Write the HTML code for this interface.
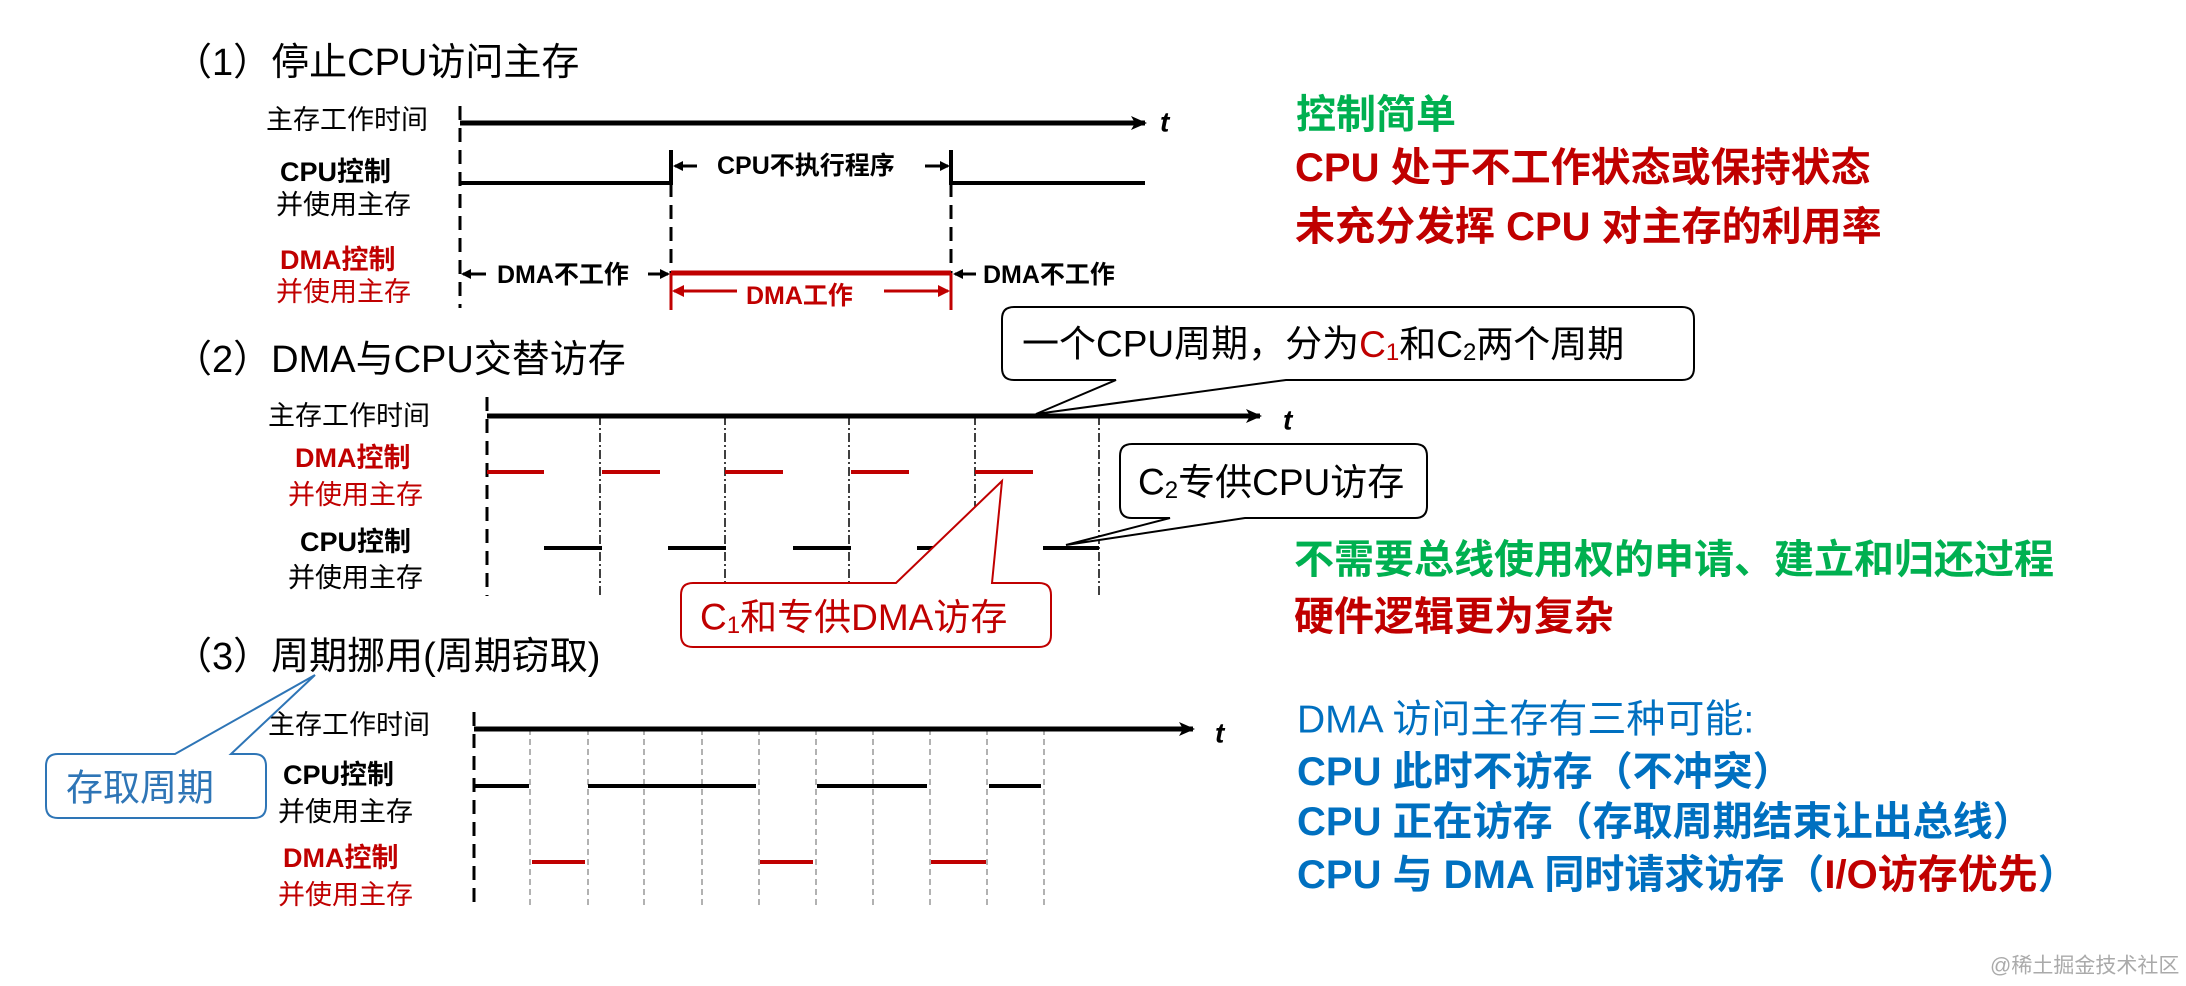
<!DOCTYPE html>
<html><head><meta charset="utf-8"><style>
html,body{margin:0;padding:0;background:#fff;}
svg{display:block;}
text{font-family:"Liberation Sans","Noto Sans CJK SC",sans-serif;dominant-baseline:central;}
.lb{font-size:27px;fill:#000;}
.b{font-weight:bold;}
.r{fill:#c00000;}
.tt{font-size:38px;fill:#000;}
.big{font-size:40px;font-weight:bold;}
</style></head><body>
<svg width="2186" height="986" viewBox="0 0 2186 986" xmlns="http://www.w3.org/2000/svg">
<defs>
<marker id="ak" markerWidth="10" markerHeight="10" refX="8" refY="5" orient="auto" markerUnits="userSpaceOnUse"><path d="M0,0 L10,5 L0,10 Z" fill="#000"/></marker>
<marker id="ar" markerWidth="12" markerHeight="12" refX="10" refY="6" orient="auto" markerUnits="userSpaceOnUse"><path d="M0,0 L12,6 L0,12 Z" fill="#c00000"/></marker>
<marker id="ab" markerWidth="16" markerHeight="14" refX="14" refY="7" orient="auto" markerUnits="userSpaceOnUse"><path d="M0,0 L16,7 L0,14 L4,7 Z" fill="#000"/></marker>
</defs>

<!-- Section 1 -->
<text x="174" y="63" class="tt">（1）停止CPU访问主存</text>
<text x="266" y="120" class="lb">主存工作时间</text>
<text x="280" y="172" class="lb b">CPU控制</text>
<text x="276" y="205" class="lb">并使用主存</text>
<text x="280" y="260" class="lb b r">DMA控制</text>
<text x="276" y="292" class="lb r">并使用主存</text>
<line x1="460" y1="123" x2="1145" y2="123" stroke="#000" stroke-width="5" marker-end="url(#ab)"/>
<text x="1160" y="122" font-size="28" font-weight="bold" font-style="italic">t</text>
<line x1="460" y1="106" x2="460" y2="308" stroke="#000" stroke-width="3" stroke-dasharray="14,8"/>
<polyline points="460,183 671,183 671,150" fill="none" stroke="#000" stroke-width="4"/>
<polyline points="951,150 951,183 1145,183" fill="none" stroke="#000" stroke-width="4"/>
<line x1="671" y1="183" x2="671" y2="273" stroke="#000" stroke-width="3" stroke-dasharray="14,8"/>
<line x1="951" y1="183" x2="951" y2="273" stroke="#000" stroke-width="3" stroke-dasharray="14,8"/>
<text x="717" y="166" font-size="25" class="b">CPU不执行程序</text>
<line x1="697" y1="166" x2="675" y2="166" stroke="#000" stroke-width="3" marker-end="url(#ak)"/>
<line x1="925" y1="166" x2="948" y2="166" stroke="#000" stroke-width="3" marker-end="url(#ak)"/>
<line x1="671" y1="273" x2="951" y2="273" stroke="#c00000" stroke-width="5"/>
<line x1="671" y1="273" x2="671" y2="310" stroke="#c00000" stroke-width="3"/>
<line x1="951" y1="273" x2="951" y2="310" stroke="#c00000" stroke-width="3"/>
<text x="497" y="275" font-size="25" class="b">DMA不工作</text>
<line x1="486" y1="274" x2="463" y2="274" stroke="#000" stroke-width="3" marker-end="url(#ak)"/>
<line x1="648" y1="274" x2="668" y2="274" stroke="#000" stroke-width="3" marker-end="url(#ak)"/>
<text x="983" y="275" font-size="25" class="b">DMA不工作</text>
<line x1="976" y1="274" x2="955" y2="274" stroke="#000" stroke-width="3" marker-end="url(#ak)"/>
<text x="746" y="296" font-size="25" class="b r">DMA工作</text>
<line x1="737" y1="291" x2="674" y2="291" stroke="#c00000" stroke-width="3" marker-end="url(#ar)"/>
<line x1="884" y1="291" x2="948" y2="291" stroke="#c00000" stroke-width="3" marker-end="url(#ar)"/>

<text x="1296" y="115" font-size="40" font-weight="bold" fill="#00b050">控制简单</text>
<text x="1295" y="168" class="big r">CPU 处于不工作状态或保持状态</text>
<text x="1295" y="227" class="big r">未充分发挥 CPU 对主存的利用率</text>

<!-- Section 2 -->
<text x="174" y="360" class="tt">（2）DMA与CPU交替访存</text>
<text x="268" y="416" class="lb">主存工作时间</text>
<text x="295" y="458" class="lb b r">DMA控制</text>
<text x="288" y="495" class="lb r">并使用主存</text>
<text x="300" y="542" class="lb b">CPU控制</text>
<text x="288" y="578" class="lb">并使用主存</text>
<line x1="487" y1="397" x2="487" y2="596" stroke="#000" stroke-width="3" stroke-dasharray="14,8"/>
<g stroke="#000" stroke-width="1.5" stroke-dasharray="9,3,2,3">
<line x1="600" y1="416" x2="600" y2="595"/><line x1="725" y1="416" x2="725" y2="595"/>
<line x1="849" y1="416" x2="849" y2="595"/><line x1="975" y1="416" x2="975" y2="595"/>
<line x1="1099" y1="416" x2="1099" y2="595"/>
</g>
<line x1="487" y1="416" x2="1260" y2="416" stroke="#000" stroke-width="5" marker-end="url(#ab)"/>
<text x="1283" y="420" font-size="28" font-weight="bold" font-style="italic">t</text>
<g stroke="#c00000" stroke-width="4">
<line x1="487" y1="472" x2="544" y2="472"/><line x1="602" y1="472" x2="660" y2="472"/>
<line x1="725" y1="472" x2="783" y2="472"/><line x1="851" y1="472" x2="909" y2="472"/>
<line x1="975" y1="472" x2="1033" y2="472"/>
</g>
<g stroke="#000" stroke-width="4">
<line x1="544" y1="548" x2="602" y2="548"/><line x1="668" y1="548" x2="726" y2="548"/>
<line x1="793" y1="548" x2="851" y2="548"/><line x1="917" y1="548" x2="975" y2="548"/>
<line x1="1043" y1="548" x2="1099" y2="548"/>
</g>
<path d="M1014,307 H1682 Q1694,307 1694,319 V368 Q1694,380 1682,380 H1286 L1036,414 L1116,380 H1014 Q1002,380 1002,368 V319 Q1002,307 1014,307 Z" fill="#fff" stroke="#000" stroke-width="2"/>
<text x="1022" y="344" font-size="37">一个CPU周期，分为<tspan fill="#c00000">C<tspan font-size="24" dy="8">1</tspan></tspan><tspan dy="-8">和C</tspan><tspan font-size="24" dy="8">2</tspan><tspan dy="-8">两个周期</tspan></text>
<path d="M1132,444 H1415 Q1427,444 1427,456 V506 Q1427,518 1415,518 H1245 L1066,545 L1170,518 H1132 Q1120,518 1120,506 V456 Q1120,444 1132,444 Z" fill="#fff" stroke="#000" stroke-width="2"/>
<text x="1138" y="482" font-size="37">C<tspan font-size="24" dy="8">2</tspan><tspan dy="-8">专供CPU访存</tspan></text>
<path d="M693,583 H896 L1002,481 L992,583 H1039 Q1051,583 1051,595 V635 Q1051,647 1039,647 H693 Q681,647 681,635 V595 Q681,583 693,583 Z" fill="#fff" stroke="#c00000" stroke-width="2"/>
<text x="700" y="617" font-size="37" fill="#c00000">C<tspan font-size="24" dy="8">1</tspan><tspan dy="-8">和专供DMA访存</tspan></text>

<text x="1294" y="560" font-size="40" font-weight="bold" fill="#00b050">不需要总线使用权的申请、建立和归还过程</text>
<text x="1294" y="617" class="big r">硬件逻辑更为复杂</text>

<!-- Section 3 -->
<text x="174" y="657" class="tt">（3）周期挪用(周期窃取)</text>
<text x="268" y="725" class="lb">主存工作时间</text>
<text x="283" y="775" class="lb b">CPU控制</text>
<text x="278" y="812" class="lb">并使用主存</text>
<text x="283" y="858" class="lb b r">DMA控制</text>
<text x="278" y="895" class="lb r">并使用主存</text>
<line x1="474" y1="712" x2="474" y2="907" stroke="#000" stroke-width="3" stroke-dasharray="14,8"/>
<g stroke="#888" stroke-width="1.3" stroke-dasharray="6,4">
<line x1="530" y1="729" x2="530" y2="907"/><line x1="588" y1="729" x2="588" y2="907"/>
<line x1="644" y1="729" x2="644" y2="907"/><line x1="702" y1="729" x2="702" y2="907"/>
<line x1="759" y1="729" x2="759" y2="907"/><line x1="816" y1="729" x2="816" y2="907"/>
<line x1="873" y1="729" x2="873" y2="907"/><line x1="930" y1="729" x2="930" y2="907"/>
<line x1="987" y1="729" x2="987" y2="907"/><line x1="1044" y1="729" x2="1044" y2="907"/>
</g>
<line x1="474" y1="729" x2="1193" y2="729" stroke="#000" stroke-width="5" marker-end="url(#ab)"/>
<text x="1215" y="733" font-size="28" font-weight="bold" font-style="italic">t</text>
<g stroke="#000" stroke-width="4">
<line x1="474" y1="786" x2="529" y2="786"/><line x1="588" y1="786" x2="756" y2="786"/>
<line x1="817" y1="786" x2="927" y2="786"/><line x1="989" y1="786" x2="1041" y2="786"/>
</g>
<g stroke="#c00000" stroke-width="4">
<line x1="532" y1="862" x2="585" y2="862"/><line x1="760" y1="862" x2="813" y2="862"/>
<line x1="931" y1="862" x2="986" y2="862"/>
</g>
<path d="M58,754 H175 L315,675 L231,754 H254 Q266,754 266,766 V806 Q266,818 254,818 H58 Q46,818 46,806 V766 Q46,754 58,754 Z" fill="#fff" stroke="#2e75b6" stroke-width="2"/>
<text x="66" y="788" font-size="37" fill="#2e75b6">存取周期</text>

<text x="1297" y="720" font-size="39" fill="#0070c0">DMA 访问主存有三种可能:</text>
<text x="1297" y="772" class="big" fill="#0070c0">CPU 此时不访存（不冲突）</text>
<text x="1297" y="822" class="big" fill="#0070c0">CPU 正在访存（存取周期结束让出总线）</text>
<text x="1297" y="875" class="big" fill="#0070c0">CPU 与 DMA 同时请求访存（<tspan fill="#c00000">I/O访存优先</tspan>）</text>

<text x="1990" y="966" font-size="21" fill="#aaa">@稀土掘金技术社区</text>
</svg>
</body></html>
